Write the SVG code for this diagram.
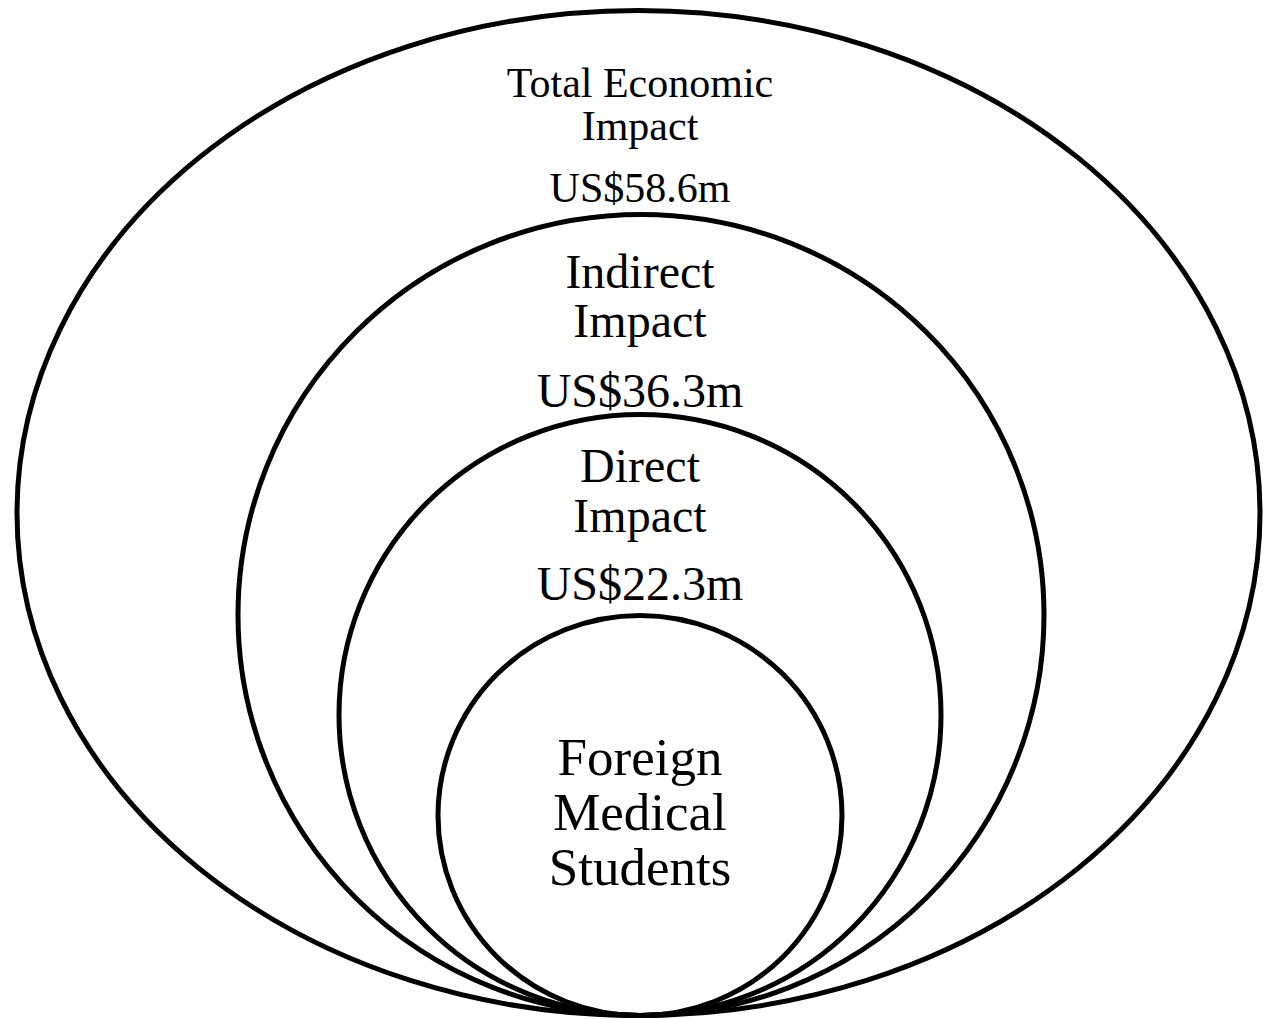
<svg xmlns="http://www.w3.org/2000/svg" width="1264" height="1019" viewBox="0 0 1264 1019">
  <style>
    .ring { fill: none; stroke: #000; stroke-width: 5; }
    .lbl { font-family: "Liberation Serif", "Times New Roman", serif; fill: #000; text-anchor: middle; }
  </style>
  <rect width="1264" height="1019" fill="#fff"/>
  <g id="total">
    <ellipse class="ring" cx="638.5" cy="513" rx="621.5" ry="502.5"/>
    <text class="lbl" font-size="42" x="640" y="97">Total Economic</text>
    <text class="lbl" font-size="42" x="640" y="140">Impact</text>
    <text class="lbl" font-size="42" x="640" y="202">US$58.6m</text>
  </g>
  <g id="indirect">
    <ellipse class="ring" cx="641" cy="615" rx="403" ry="400.5"/>
    <text class="lbl" font-size="48" x="640" y="288">Indirect</text>
    <text class="lbl" font-size="48" x="640" y="337">Impact</text>
    <text class="lbl" font-size="48" x="640" y="407">US$36.3m</text>
  </g>
  <g id="direct">
    <ellipse class="ring" cx="640" cy="715" rx="301" ry="300.5"/>
    <text class="lbl" font-size="48" x="640" y="482">Direct</text>
    <text class="lbl" font-size="48" x="640" y="532">Impact</text>
    <text class="lbl" font-size="48" x="640" y="600">US$22.3m</text>
  </g>
  <g id="students">
    <ellipse class="ring" cx="640" cy="815.5" rx="202" ry="200"/>
    <text class="lbl" font-size="53" x="640" y="775">Foreign</text>
    <text class="lbl" font-size="53" x="640" y="830">Medical</text>
    <text class="lbl" font-size="53" x="640" y="885">Students</text>
  </g>
  <g id="connectors"/>
</svg>
